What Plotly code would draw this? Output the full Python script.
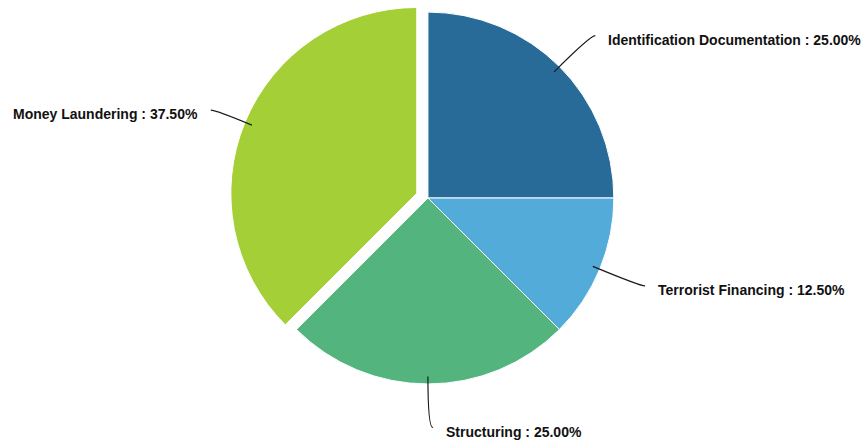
import math
import plotly.graph_objects as go

# Share of cases by category
categories = ["Identification Documentation", "Terrorist Financing", "Structuring", "Money Laundering"]
shares = [25.0, 12.5, 25.0, 37.5]
colors = ["#286b99", "#53abda", "#53b47e", "#a4cf37"]
pulls = [0, 0, 0, 0.065]

W, H = 868, 443
dom_x = [0.193, 0.793]
dom_y = [0.106, 1.0]

fig = go.Figure(go.Pie(
    labels=categories,
    values=shares,
    sort=False,
    direction="clockwise",
    rotation=0,
    pull=pulls,
    marker=dict(colors=colors, line=dict(color="#ffffff", width=1)),
    textinfo="none",
    hoverinfo="label+percent",
    showlegend=False,
    domain=dict(x=dom_x, y=dom_y),
))

# Geometry of the pie in pixels (same rules plotly uses to place it)
box_w = (dom_x[1] - dom_x[0]) * W
box_h = (dom_y[1] - dom_y[0]) * H
max_pull = max(pulls)
r = min(box_w, box_h) / (2 + 2 * max_pull)
cx = W * (dom_x[0] + dom_x[1]) / 2
cy = H * (1 - dom_y[0]) - box_h / 2


def px(x):
    return x / W


def py(y):
    return 1 - y / H


shapes = []
annotations = []
total = sum(shares)
acc = 0.0
for name, val, pull in zip(categories, shares, pulls):
    mid = (acc + val / 2) / total * 2 * math.pi
    acc += val
    dx, dy = math.sin(mid), -math.cos(mid)
    side = 1 if dx >= -1e-9 else -1
    ox, oy = cx + pull * r * dx, cy + pull * r * dy
    # leader line: from the slice edge outward, bending to horizontal
    x0, y0 = ox + 0.96 * r * dx, oy + 0.96 * r * dy
    xr, yr = cx + 1.235 * r * dx, cy + 1.235 * r * dy
    x3, y3 = xr + side * 5, yr
    path = (f"M {px(x0)},{py(y0)} Q {px(xr)},{py(yr)} {px(x3)},{py(y3)}")
    shapes.append(dict(type="path", path=path, xref="paper", yref="paper",
                       line=dict(color="#1a1a1a", width=1.2)))
    annotations.append(dict(
        x=px(x3 + side * 11), y=py(y3 + 4), xref="paper", yref="paper",
        text=f"<b>{name} : {val:.2f}%</b>", showarrow=False,
        xanchor="left" if side > 0 else "right", yanchor="middle",
        font=dict(family="Liberation Sans, Arial, sans-serif", size=14, color="#111111"),
    ))

fig.update_layout(
    width=W, height=H,
    margin=dict(l=0, r=0, t=0, b=0),
    paper_bgcolor="#ffffff",
    plot_bgcolor="#ffffff",
    shapes=shapes,
    annotations=annotations,
)

fig.write_html("out.html")
